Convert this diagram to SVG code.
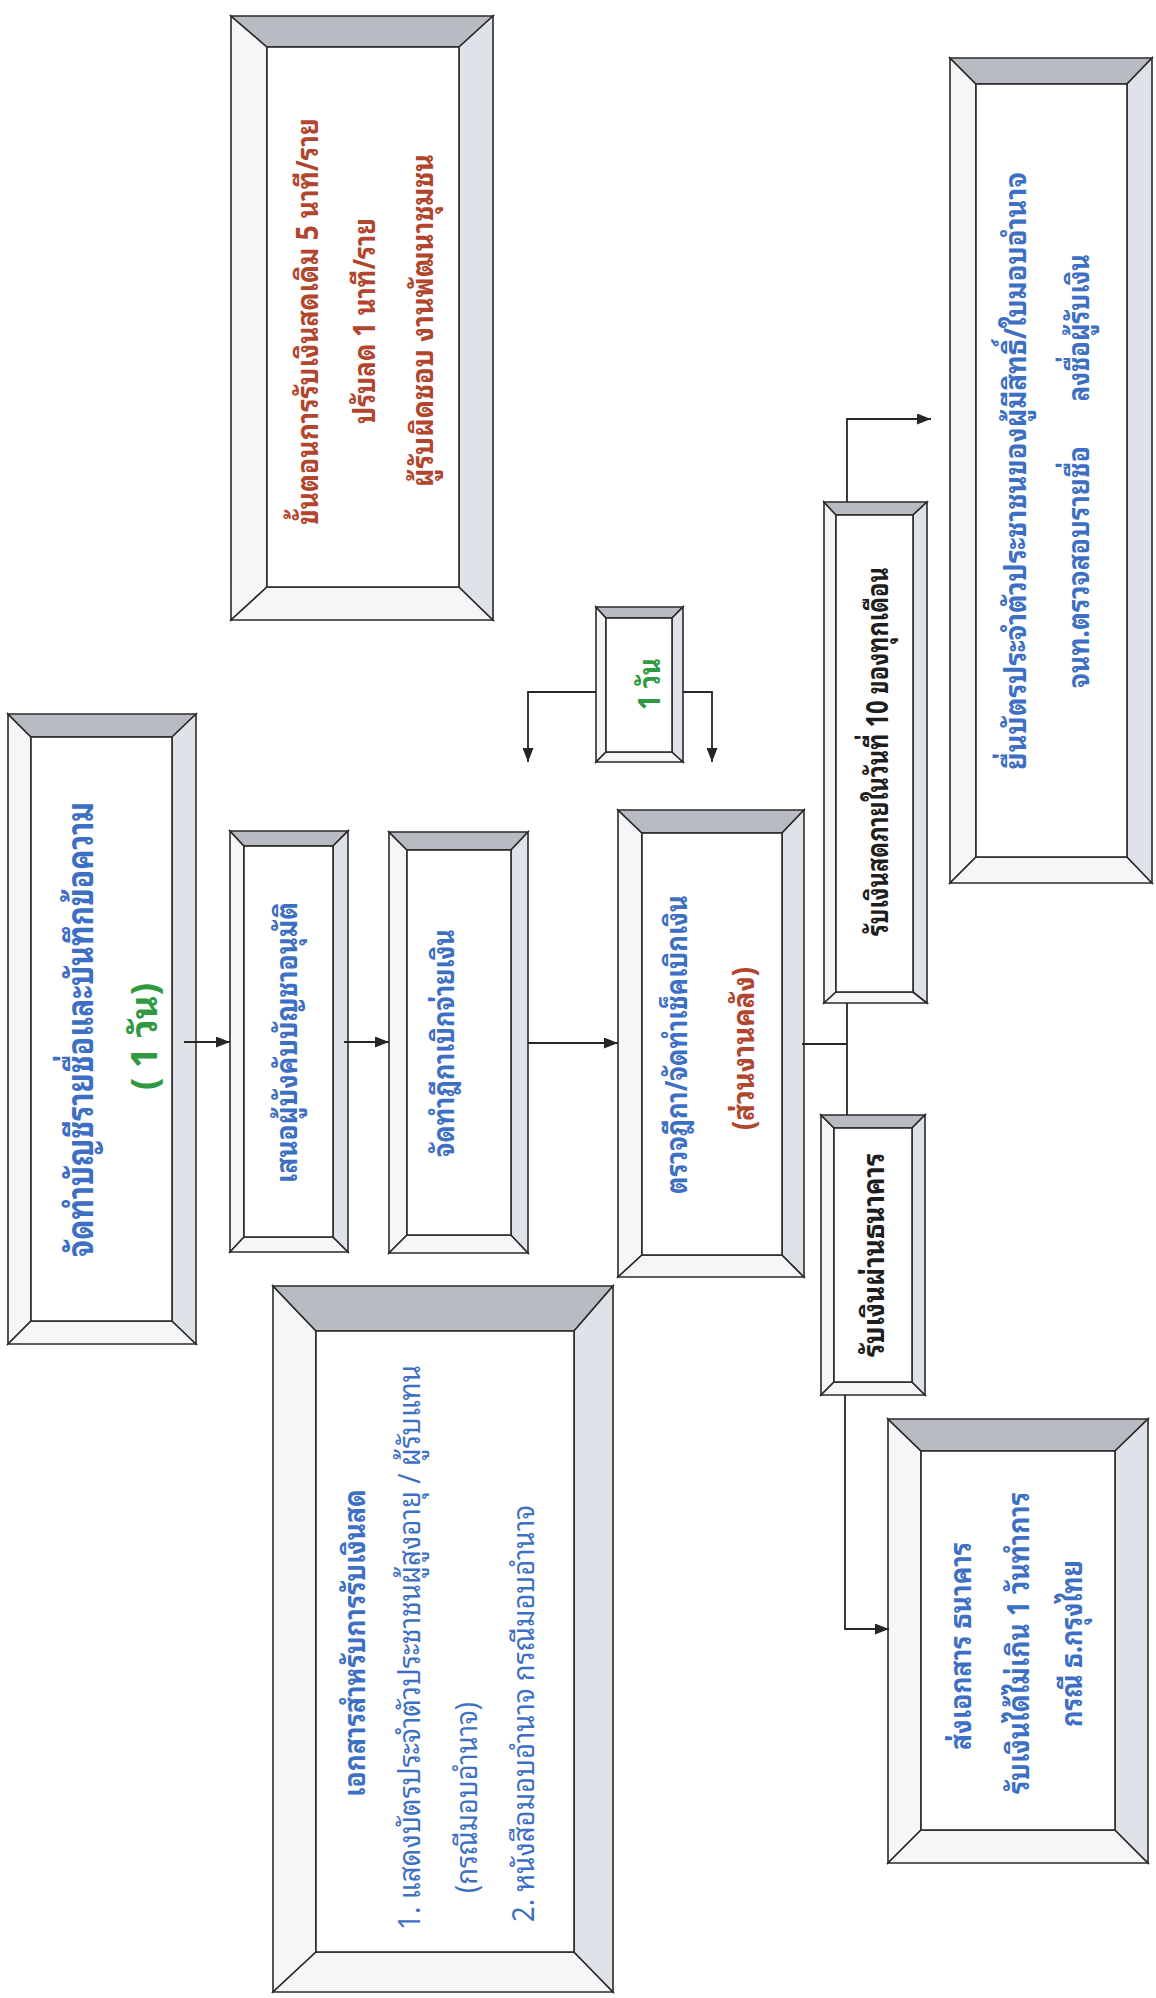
<svg xmlns="http://www.w3.org/2000/svg" width="1156" height="1998" viewBox="0 0 1156 1998">
<defs>
<style>
.bg{fill:#ffffff}
.lf{fill:#f5f6f8;stroke:#2b2b2b;stroke-width:1.6;stroke-linejoin:miter}
.tp{fill:#b8bbc1;stroke:#2b2b2b;stroke-width:1.6}
.rt{fill:#dfe2e8;stroke:#2b2b2b;stroke-width:1.6}
.in{fill:#ffffff;stroke:#2b2b2b;stroke-width:1.6}
.t{font-family:"Noto Sans Thai Looped","Noto Sans Thai","DejaVu Sans",sans-serif;font-size:30px;dominant-baseline:central}
.b{font-weight:bold}
.blue{fill:#3d6fc4}
.red{fill:#b2452e}
.green{fill:#2f9a42}
.blk{fill:#1e1e1e}
.big{font-size:36px}
.cn{fill:none;stroke:#262626;stroke-width:1.8}
</style>
<marker id="ah" viewBox="0 0 14 11" refX="14" refY="5.5" markerWidth="14" markerHeight="11" markerUnits="userSpaceOnUse" orient="auto">
<path d="M0,0 L14,5.5 L0,11 Z" fill="#262626"/>
</marker>
</defs>
<rect class="bg" x="0" y="0" width="1156" height="1998"/>

<g id="node-rule">
<polygon class="lf" points="231,16 267,47 267,587 231,620"/>
<polygon class="lf" points="231,620 267,587 459,587 493,620"/>
<polygon class="tp" points="231,16 493,16 459,47 267,47"/>
<polygon class="rt" points="493,16 493,620 459,587 459,47"/>
<rect class="in" x="267" y="47" width="192" height="540"/>
<text class="t b red" transform="translate(304,525) rotate(-90)" textLength="407" lengthAdjust="spacingAndGlyphs">ขั้นตอนการรับเงินสดเดิม 5 นาที/ราย</text>
<text class="t b red" transform="translate(361,424) rotate(-90)" textLength="206" lengthAdjust="spacingAndGlyphs">ปรับลด 1 นาที/ราย</text>
<text class="t b red" transform="translate(419,487) rotate(-90)" textLength="333" lengthAdjust="spacingAndGlyphs">ผู้รับผิดชอบ งานพัฒนาชุมชน</text>
</g>

<g id="node-list">
<polygon class="lf" points="8,714 31,737 31,1321 8,1344"/>
<polygon class="lf" points="8,1344 31,1321 172,1321 196,1344"/>
<polygon class="tp" points="8,714 196,714 172,737 31,737"/>
<polygon class="rt" points="196,714 196,1344 172,1321 172,737"/>
<rect class="in" x="31" y="737" width="141" height="584"/>
<text class="t b big blue" transform="translate(77,1257) rotate(-90)" textLength="455" lengthAdjust="spacingAndGlyphs">จัดทำบัญชีรายชื่อและบันทึกข้อความ</text>
<text class="t b big green" transform="translate(141,1090) rotate(-90)" textLength="107" lengthAdjust="spacingAndGlyphs">( 1 วัน)</text>
</g>

<g id="node-approve">
<polygon class="lf" points="230,831 244,846 244,1237 230,1252"/>
<polygon class="lf" points="230,1252 244,1237 333,1237 348,1252"/>
<polygon class="tp" points="230,831 348,831 333,846 244,846"/>
<polygon class="rt" points="348,831 348,1252 333,1237 333,846"/>
<rect class="in" x="244" y="846" width="89" height="391"/>
<text class="t b blue" transform="translate(283,1183) rotate(-90)" textLength="281" lengthAdjust="spacingAndGlyphs">เสนอผู้บังคับบัญชาอนุมัติ</text>
</g>

<g id="node-voucher">
<polygon class="lf" points="389,832 407,850 407,1235 389,1253"/>
<polygon class="lf" points="389,1253 407,1235 511,1235 528,1253"/>
<polygon class="tp" points="389,832 528,832 511,850 407,850"/>
<polygon class="rt" points="528,832 528,1253 511,1235 511,850"/>
<rect class="in" x="407" y="850" width="104" height="385"/>
<text class="t b blue" transform="translate(440,1157) rotate(-90)" textLength="228" lengthAdjust="spacingAndGlyphs">จัดทำฎีกาเบิกจ่ายเงิน</text>
</g>

<g id="node-oneday">
<polygon class="lf" points="596,607 606,618 606,752 596,762"/>
<polygon class="lf" points="596,762 606,752 672,752 683,762"/>
<polygon class="tp" points="596,607 683,607 672,618 606,618"/>
<polygon class="rt" points="683,607 683,762 672,752 672,618"/>
<rect class="in" x="606" y="618" width="66" height="134"/>
<text class="t b green" transform="translate(646,710) rotate(-90)" textLength="52" lengthAdjust="spacingAndGlyphs">1 วัน</text>
</g>

<g id="node-check">
<polygon class="lf" points="618,810 642,833 642,1255 618,1277"/>
<polygon class="lf" points="618,1277 642,1255 782,1255 804,1277"/>
<polygon class="tp" points="618,810 804,810 782,833 642,833"/>
<polygon class="rt" points="804,810 804,1277 782,1255 782,833"/>
<rect class="in" x="642" y="833" width="140" height="422"/>
<text class="t b blue" transform="translate(673,1194) rotate(-90)" textLength="299" lengthAdjust="spacingAndGlyphs">ตรวจฎีกา/จัดทำเช็คเบิกเงิน</text>
<text class="t b red" transform="translate(740,1130) rotate(-90)" textLength="163" lengthAdjust="spacingAndGlyphs">(ส่วนงานคลัง)</text>
</g>

<g id="node-cash">
<polygon class="lf" points="824,502 836,515 836,992 824,1003"/>
<polygon class="lf" points="824,1003 836,992 913,992 927,1003"/>
<polygon class="tp" points="824,502 927,502 913,515 836,515"/>
<polygon class="rt" points="927,502 927,1003 913,992 913,515"/>
<rect class="in" x="836" y="515" width="77" height="477"/>
<text class="t b blk" transform="translate(874,936) rotate(-90)" textLength="369" lengthAdjust="spacingAndGlyphs">รับเงินสดภายในวันที่ 10 ของทุกเดือน</text>
</g>

<g id="node-bank">
<polygon class="lf" points="821,1115 834,1128 834,1382 821,1395"/>
<polygon class="lf" points="821,1395 834,1382 912,1382 925,1395"/>
<polygon class="tp" points="821,1115 925,1115 912,1128 834,1128"/>
<polygon class="rt" points="925,1115 925,1395 912,1382 912,1128"/>
<rect class="in" x="834" y="1128" width="78" height="254"/>
<text class="t b blk" transform="translate(870,1357) rotate(-90)" textLength="204" lengthAdjust="spacingAndGlyphs">รับเงินผ่านธนาคาร</text>
</g>

<g id="node-idcard">
<polygon class="lf" points="950,58 976,84 976,857 950,883"/>
<polygon class="lf" points="950,883 976,857 1127,857 1152,883"/>
<polygon class="tp" points="950,58 1152,58 1127,84 976,84"/>
<polygon class="rt" points="1152,58 1152,883 1127,857 1127,84"/>
<rect class="in" x="976" y="84" width="151" height="773"/>
<text class="t b blue" transform="translate(1012,770) rotate(-90)" textLength="598" lengthAdjust="spacingAndGlyphs">ยื่นบัตรประจำตัวประชาชนของผู้มีสิทธิ์/ใบมอบอำนาจ</text>
<text class="t b blue" transform="translate(1075,688) rotate(-90)"><tspan x="0" textLength="242" lengthAdjust="spacingAndGlyphs">จนท.ตรวจสอบรายชื่อ</tspan><tspan x="280" textLength="154" lengthAdjust="spacingAndGlyphs"> ลงชื่อผู้รับเงิน</tspan></text>
</g>

<g id="node-senddoc">
<polygon class="lf" points="888,1419 921,1451 921,1830 888,1863"/>
<polygon class="lf" points="888,1863 921,1830 1115,1830 1148,1863"/>
<polygon class="tp" points="888,1419 1148,1419 1115,1451 921,1451"/>
<polygon class="rt" points="1148,1419 1148,1863 1115,1830 1115,1451"/>
<rect class="in" x="921" y="1451" width="194" height="379"/>
<text class="t b blue" transform="translate(957,1750) rotate(-90)" textLength="208" lengthAdjust="spacingAndGlyphs">ส่งเอกสาร ธนาคาร</text>
<text class="t b blue" transform="translate(1015,1794) rotate(-90)" textLength="302" lengthAdjust="spacingAndGlyphs">รับเงินได้ไม่เกิน 1 วันทำการ</text>
<text class="t b blue" transform="translate(1068,1727) rotate(-90)" textLength="167" lengthAdjust="spacingAndGlyphs">กรณี ธ.กรุงไทย</text>
</g>

<g id="node-docs">
<polygon class="lf" points="273,1286 316,1331 316,1952 273,1992"/>
<polygon class="lf" points="273,1992 316,1952 574,1952 613,1992"/>
<polygon class="tp" points="273,1286 613,1286 574,1331 316,1331"/>
<polygon class="rt" points="613,1286 613,1992 574,1952 574,1331"/>
<rect class="in" x="316" y="1331" width="258" height="621"/>
<text class="t b blue" transform="translate(351,1797) rotate(-90)" textLength="308" lengthAdjust="spacingAndGlyphs">เอกสารสำหรับการรับเงินสด</text>
<text class="t blue" transform="translate(406,1930) rotate(-90)" textLength="565" lengthAdjust="spacingAndGlyphs">1. แสดงบัตรประจำตัวประชาชนผู้สูงอายุ / ผู้รับแทน</text>
<text class="t blue" transform="translate(463,1893) rotate(-90)" textLength="191" lengthAdjust="spacingAndGlyphs">(กรณีมอบอำนาจ)</text>
<text class="t blue" transform="translate(520,1922) rotate(-90)" textLength="417" lengthAdjust="spacingAndGlyphs">2. หนังสือมอบอำนาจ กรณีมอบอำนาจ</text>
</g>

<g id="connectors">
<path class="cn" d="M184,1042 H230" marker-end="url(#ah)"/>
<path class="cn" d="M344,1042 H389" marker-end="url(#ah)"/>
<path class="cn" d="M528,1043 H618" marker-end="url(#ah)"/>
<path class="cn" d="M596,692 H528 V762" marker-end="url(#ah)"/>
<path class="cn" d="M683,692 H712 V762" marker-end="url(#ah)"/>
<path class="cn" d="M802,1044 H847"/>
<path class="cn" d="M847,1003 V1115"/>
<path class="cn" d="M847,502 V419 H931" marker-end="url(#ah)"/>
<path class="cn" d="M845,1395 V1629 H889" marker-end="url(#ah)"/>
</g>
</svg>
